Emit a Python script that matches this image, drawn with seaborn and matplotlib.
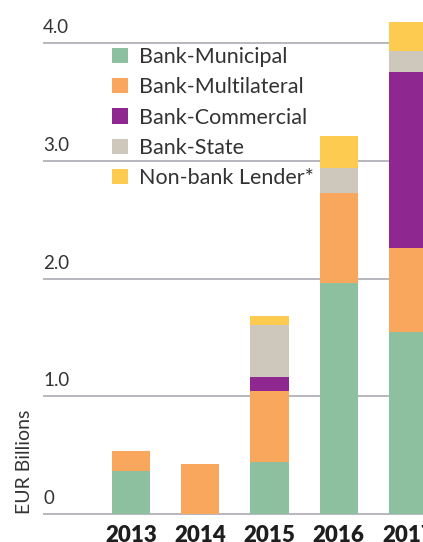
import matplotlib
matplotlib.use("Agg")
import matplotlib.pyplot as plt
import matplotlib.transforms as mtransforms
from matplotlib.patches import Patch
import numpy as np
import pandas as pd
import seaborn as sns

years = ["2013", "2014", "2015", "2016", "2017"]
municipal = [0.365, 0.0, 0.442, 1.963, 1.546]
multilateral = [0.170, 0.425, 0.603, 0.767, 0.714]
commercial = [0.0, 0.0, 0.119, 0.0, 1.498]
state = [0.0, 0.0, 0.442, 0.212, 0.176]
nonbank = [0.0, 0.0, 0.077, 0.269, 0.246]

series_names = ["Bank-Municipal", "Bank-Multilateral", "Bank-Commercial",
                "Bank-State", "Non-bank Lender*"]
series_values = [municipal, multilateral, commercial, state, nonbank]
colors = ["#8DC09F", "#F8A75C", "#8E278F", "#CEC7BC", "#FDCB4F"]

y_ticks = [0, 1.0, 2.0, 3.0, 4.0]
y_tick_labels = ["0", "1.0", "2.0", "3.0", "4.0"]

sns.set_style("white")
plt.rcParams["font.family"] = ["Lato", "DejaVu Sans"]

W, H = 423, 542
fig = plt.figure(figsize=(W / 100, H / 100), dpi=100)
# axes from x=43px to right edge, baseline at 514px
ax = fig.add_axes([43 / W, (H - 520) / H, (W - 43) / W, 520 / H])

# stacked bars: draw cumulative totals from the top series down
cum = np.cumsum(np.array(series_values), axis=0)
for i in range(len(series_names) - 1, -1, -1):
    df = pd.DataFrame({"year": years, "value": cum[i]})
    sns.barplot(data=df, x="year", y="value", color=colors[i],
                width=0.55, saturation=1, ax=ax, zorder=2, linewidth=0)

# y range: 117.7 px per unit, baseline at 514 px
ax.set_ylim(-6 / 117.7, 514 / 117.7)
ax.set_xlim(-1.27, 4.216)

for t in y_ticks:
    ax.axhline(t, color="#A3A3AB", lw=1.1, zorder=1)
trans = mtransforms.blended_transform_factory(ax.transAxes, ax.transData)
for t, lab in zip(y_ticks, y_tick_labels):
    ax.text(0, t + 0.085, lab, transform=trans, ha="left", va="baseline",
            fontsize=13.5, color="#333333")

ax.set_yticks([])
ax.set_xlabel("")
ax.set_ylabel("")
ax.tick_params(axis="x", length=0, pad=3.5)
for lbl in ax.get_xticklabels():
    lbl.set_fontweight("heavy")
    lbl.set_fontsize(16)
    lbl.set_color("#1E1E1E")
for s in ax.spines.values():
    s.set_visible(False)

fig.text(24 / W, (H - 514) / H, "EUR Billions", rotation=90, ha="center",
         va="bottom", fontsize=14, color="#333333")

handles = [Patch(facecolor=c, edgecolor="none") for c in colors]
fig.legend(handles, series_names, loc="upper left",
           bbox_to_anchor=(112 / W, (H - 47) / H), frameon=False,
           handlelength=0.75, handleheight=0.72,
           handletextpad=0.5, labelspacing=0.48, borderpad=0,
           borderaxespad=0, labelcolor="#333333",
           prop={"size": 15.5})

fig.savefig("out.png", dpi=100)
